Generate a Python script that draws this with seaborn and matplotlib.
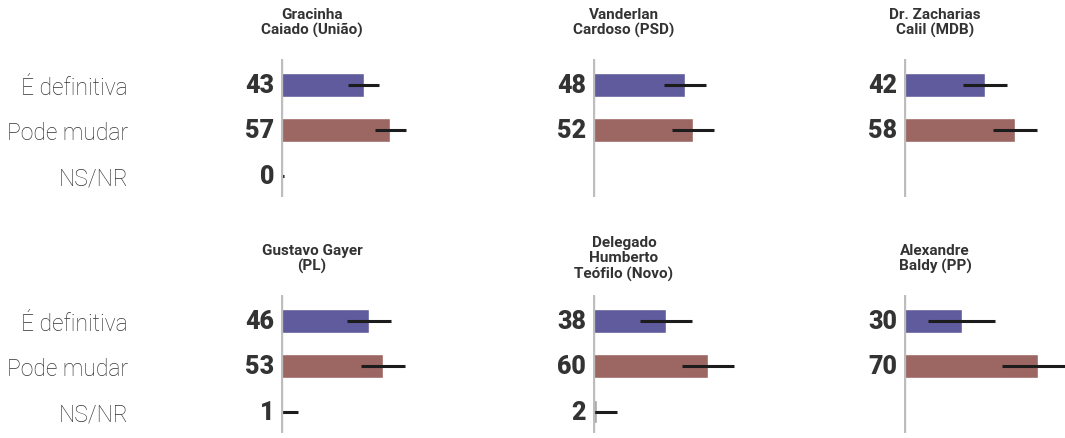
import numpy as np
import pandas as pd
import matplotlib
matplotlib.use("Agg")
import matplotlib.pyplot as plt
import seaborn as sns

categories = ["É definitiva", "Pode mudar", "NS/NR"]
candidates = ["Gracinha\nCaiado (União)", "Vanderlan\nCardoso (PSD)", "Dr. Zacharias\nCalil (MDB)",
              "Gustavo Gayer\n(PL)", "Delegado\nHumberto\nTeófilo (Novo)", "Alexandre\nBaldy (PP)"]
definitiva = [43, 48, 42, 46, 38, 30]
pode_mudar = [57, 52, 58, 53, 60, 70]
ns_nr = [0, np.nan, np.nan, 1, 2, np.nan]
err_definitiva = [8, 11, 11.5, 11.5, 13.5, 17.5]
err_pode_mudar = [8, 11, 11.5, 11.5, 13.5, 19]
err_ns_nr = [1.5, np.nan, np.nan, 8, 10.5, np.nan]

colors = {"É definitiva": "#5f5b9c", "Pode mudar": "#9c6662", "NS/NR": "#a9a9a9"}

sns.set_theme(style="white")
plt.rcParams["font.family"] = ["Roboto", "DejaVu Sans"]

W, H = 1065, 439
fig = plt.figure(figsize=(W / 100, H / 100), dpi=100)

col_x = [281, 593, 904]
row_top = [60, 296]
ax_w = 230.4
ax_h = 138
xmax = ax_w / 1.92

for i, name in enumerate(candidates):
    r, c = divmod(i, 3)
    left = col_x[c] / W
    bottom = (H - row_top[r] - ax_h) / H
    ax = fig.add_axes([left, bottom, ax_w / W, ax_h / H])
    vals = [definitiva[i], pode_mudar[i], ns_nr[i]]
    errs = [err_definitiva[i], err_pode_mudar[i], err_ns_nr[i]]
    df = pd.DataFrame({"cat": categories, "value": vals})
    sns.barplot(data=df, x="value", y="cat", hue="cat", order=categories,
                hue_order=categories, palette=colors, orient="h", width=0.52,
                errorbar=None, legend=False, ax=ax, saturation=1)
    ax.errorbar(vals, range(3), xerr=errs, fmt="none", ecolor="#1c1c1c",
                elinewidth=2.2, capsize=0, zorder=5)
    ax.set_xlim(0, xmax)
    ax.set_ylim(2.47, -0.57)
    ax.axvline(0, color="#bdbdbd", lw=2.4, zorder=6)
    for s in ax.spines.values():
        s.set_visible(False)
    ax.set_xticks([])
    ax.set_xlabel("")
    ax.set_ylabel("")
    if c == 0:
        ax.set_yticks(range(3))
        ax.set_yticklabels(categories, fontsize=16.5, color="#333333", fontweight="light")
        ax.tick_params(axis="y", length=0, pad=110)
    else:
        ax.set_yticks([])
    for j, v in enumerate(vals):
        if not np.isnan(v):
            ax.annotate(f"{v:.0f}", xy=(0, j), xycoords=ax.get_yaxis_transform(),
                        xytext=(-5, 0), textcoords="offset points", ha="right",
                        va="center", fontsize=18, fontweight="heavy", color="#333333")
    # title
    tx = (col_x[c] + 31) / W
    ty = 1 - (row_top[r] - 37) / H
    fig.text(tx, ty, name, ha="center", va="center", fontsize=11, fontweight="bold",
             color="#333333", linespacing=1.1, multialignment="center")

fig.savefig("out.png", dpi=100)
